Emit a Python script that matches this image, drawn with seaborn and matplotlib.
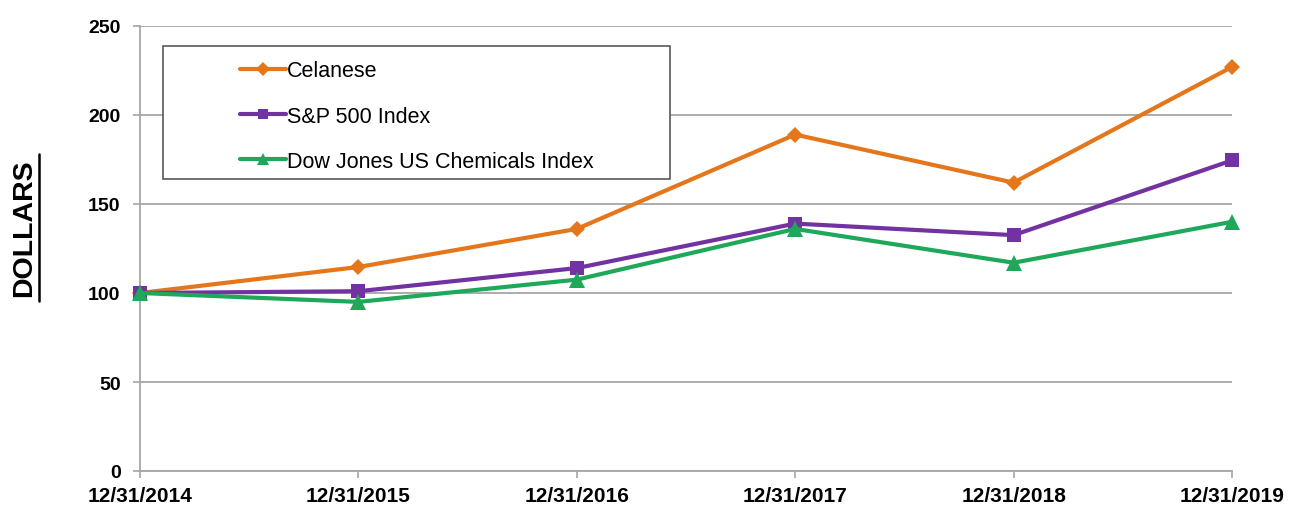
import matplotlib
matplotlib.use("Agg")
import matplotlib.pyplot as plt
import seaborn as sns
import pandas as pd
from matplotlib.patches import Rectangle
from matplotlib.lines import Line2D
from matplotlib import font_manager

dates = ["12/31/2014", "12/31/2015", "12/31/2016", "12/31/2017", "12/31/2018", "12/31/2019"]
celanese = [100, 114.6, 136, 189, 162, 227]
sp500 = [100, 101, 114, 139, 132.5, 174.5]
djchem = [100, 95, 107.5, 136, 117, 140]
series_names = ["Celanese", "S&P 500 Index", "Dow Jones US Chemicals Index"]
y_ticks = [0, 50, 100, 150, 200, 250]

colors = {"Celanese": "#E4761C", "S&P 500 Index": "#7332A2", "Dow Jones US Chemicals Index": "#1FA85A"}
markers = {"Celanese": "D", "S&P 500 Index": "s", "Dow Jones US Chemicals Index": "^"}
msizes = {"Celanese": 8.5, "S&P 500 Index": 9.5, "Dow Jones US Chemicals Index": 11}

rows = []
for name, vals in zip(series_names, [celanese, sp500, djchem]):
    for i, v in enumerate(vals):
        rows.append({"pos": i, "value": v, "series": name})
df = pd.DataFrame(rows)

sns.set_theme(style="white")
available = {f.name for f in font_manager.fontManager.ttflist}
base = "Liberation Sans" if "Liberation Sans" in available else "DejaVu Sans"
plt.rcParams["font.family"] = [base, "DejaVu Sans"]
plt.rcParams["text.color"] = "black"

fig = plt.figure(figsize=(12.89, 5.06), dpi=100)
ax = fig.add_axes([140 / 1289, 1 - 472 / 506, (1232 - 140) / 1289, (472 - 27) / 506])

sns.lineplot(data=df, x="pos", y="value", hue="series", style="series",
             hue_order=series_names, style_order=series_names,
             palette=colors, markers=markers, dashes=False, linewidth=3,
             markeredgewidth=0, ax=ax, legend=False, sort=False)
for line, name in zip(ax.lines, series_names):
    line.set_markersize(msizes[name])
    line.set_markeredgecolor(colors[name])
    line.set_clip_on(False)
    line.set_zorder(3)

ax.set_xlim(0, 5)
ax.set_ylim(0, 250)
ax.set_yticks(y_ticks)
ax.set_xticks(range(len(dates)))
ax.set_xticklabels(dates, fontsize=15, fontweight="bold")
ax.set_yticklabels([str(t) for t in y_ticks], fontsize=14, fontweight="bold")
ax.set_xlabel("")
ax.set_ylabel("")
ax.grid(axis="y", color="#A6A6A6", linewidth=1.3)
ax.set_axisbelow(True)
for s in ["top", "right"]:
    ax.spines[s].set_visible(False)
for s in ["left", "bottom"]:
    ax.spines[s].set_color("#A6A6A6")
    ax.spines[s].set_linewidth(1.3)
ax.tick_params(axis="both", which="both", direction="out", length=5, width=1.2,
               color="#A6A6A6", labelcolor="black", left=True, bottom=True)
ax.tick_params(axis="y", pad=9)
ax.tick_params(axis="x", pad=6)

# legend box
box = Rectangle((163 / 1289, 1 - 180 / 506), (670 - 163) / 1289, (180 - 47) / 506,
                transform=fig.transFigure, facecolor="white", edgecolor="#595959",
                linewidth=1.2, zorder=4)
fig.patches.append(box)
handles = [Line2D([], [], color=colors[n], marker=markers[n], markersize=msizes[n] * 0.8,
                  linewidth=3, markeredgewidth=0) for n in series_names]
leg = fig.legend(handles, series_names, loc="center", bbox_to_anchor=(417 / 1289, 1 - 117 / 506),
                 frameon=False, fontsize=15.5, handlelength=2.15, handletextpad=0.05,
                 labelspacing=1.12, borderpad=0, labelcolor="black")
leg.set_zorder(5)

# y label with underline
fig.text(24 / 1289, 1 - 228 / 506, "DOLLARS", rotation=90, fontsize=20.5, fontweight="bold",
         ha="center", va="center", color="black")
fig.add_artist(Line2D([38.5 / 1289, 38.5 / 1289], [1 - 302 / 506, 1 - 155 / 506],
                      color="black", linewidth=1.8, transform=fig.transFigure))

fig.savefig("out.png", dpi=100)
